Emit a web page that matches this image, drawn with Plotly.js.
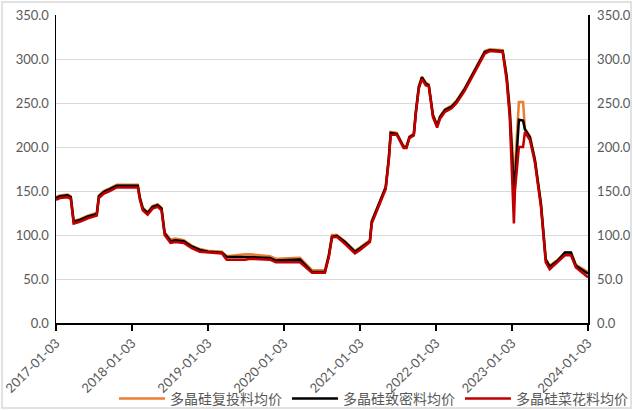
<!DOCTYPE html>
<html>
<head>
<meta charset="utf-8">
<script src="https://cdn.plot.ly/plotly-3.0.1.min.js"></script>
<style>
html,body{margin:0;padding:0;background:#fff;}
#chart{width:633px;height:410px;}
</style>
</head>
<body>
<div id="chart"></div>
<script>
const dates = ['2017-01-03','2017-01-22','2017-02-28','2017-03-15','2017-03-29','2017-04-27','2017-06-05','2017-07-18','2017-07-28','2017-08-21','2017-09-18','2017-10-22',
'2018-01-31','2018-02-10','2018-02-24','2018-03-19','2018-04-12','2018-05-06','2018-05-25','2018-06-09','2018-07-07','2018-07-31','2018-09-09','2018-10-17','2018-11-25',
'2019-01-03','2019-03-11','2019-04-03','2019-07-01','2019-07-25','2019-10-28','2019-11-25',
'2020-03-20','2020-04-13','2020-05-17','2020-07-18','2020-08-06','2020-08-21','2020-09-13','2020-10-22','2020-12-09',
'2021-01-03','2021-02-05','2021-02-19','2021-02-28','2021-03-19','2021-04-12','2021-05-06','2021-05-21','2021-05-30','2021-06-28','2021-07-31','2021-08-14','2021-08-28','2021-09-18','2021-09-28','2021-10-12','2021-10-27','2021-11-15','2021-11-29','2021-12-19',
'2022-01-08','2022-01-22','2022-02-15','2022-03-19','2022-04-12','2022-05-21','2022-08-25','2022-09-18','2022-11-19','2022-12-08','2022-12-23',
'2023-01-12','2023-01-17','2023-02-05','2023-02-25','2023-03-06','2023-03-30','2023-04-23','2023-05-22','2023-06-14','2023-07-03','2023-08-11','2023-09-14','2023-10-13','2023-11-06','2024-01-03'];

const fuTouLiao = [143,145,146,144,116,118,122,125,145,150,153,157,
157,143,131,126,133,135,131,103,95,96,94,88,84,
82,81,76,78,78,76,73,
74,68,60,60,78,100,100,93,82,
86,92,94,116,128,141,155,188,217,216,201,201,212,215,241,269,280,273,271,237,
225,235,243,247,253,267,309,311,310,282,245,
170,175,251,251,221,212,186,136,73,65,72,80,80,66,58];

const zhiMiLiao = [142,144,145,143,115,117,121,124,144,149,152,156,
156,142,130,125,132,134,130,102,93,94,93,87,83,
81,80,75,75,75,74,71,
72,66,58,58,77,98,99,92,81,
85,91,93,115,127,140,154,187,216,215,200,200,211,214,240,268,279,272,270,236,
224,234,242,246,252,266,308,310,309,280,240,
151,160,231,230,220,211,185,135,72,64,71,80,80,65,56];

const caiHuaLiao = [140,142,143,141,113,115,119,122,142,147,150,154,
154,140,128,123,130,132,128,100,91,92,91,85,81,
80,79,72,72,73,72,69,
69,64,57,57,75,97,98,90,79,
83,90,92,113,125,138,152,185,214,214,199,199,210,213,238,266,277,270,269,234,
222,232,240,244,250,264,306,309,308,276,234,
113,150,200,200,217,208,182,132,69,61,69,77,77,63,52];

const seriesNames = ['多晶硅复投料均价','多晶硅致密料均价','多晶硅菜花料均价'];
const seriesColors = ['#ED7D31','#000000','#C00000'];
const tickDates = ['2017-01-03','2018-01-03','2019-01-03','2020-01-03','2021-01-03','2022-01-03','2023-01-03','2024-01-03'];
const yTicks = [0,50,100,150,200,250,300,350];

const allSeries = [fuTouLiao, zhiMiLiao, caiHuaLiao];
const traces = allSeries.map((vals,i)=>({
  x: dates, y: vals, type:'scatter', mode:'lines', name: seriesNames[i],
  line:{color: seriesColors[i], width: 2.5}
}));
traces.push({x:[dates[0]], y:[0], yaxis:'y2', type:'scatter', mode:'lines', showlegend:false, hoverinfo:'skip', line:{width:0}});

const W=633,H=410,L=56,R=45,T=15,B=87;
const pw=W-L-R, ph=H-T-B;
const tickFont = {family:'Lato, "Noto Sans", sans-serif', size:13, color:'#595959'};

const layout = {
  width:W, height:H,
  margin:{l:L,r:R,t:T,b:B,pad:0},
  paper_bgcolor:'#ffffff', plot_bgcolor:'#ffffff',
  showlegend:true,
  font:{family:'"Noto Sans CJK SC", sans-serif', color:'#595959', size:12},
  xaxis:{
    type:'date', range:['2017-01-03','2024-01-03'], automargin:false,
    tickmode:'array', tickvals:tickDates, ticktext:tickDates,
    tickangle:-45, ticks:'outside', ticklen:6, tickcolor:'#000', tickwidth:1.5,
    showline:true, linecolor:'#000', linewidth:1.5, showgrid:false, zeroline:false,
    tickfont:tickFont
  },
  yaxis:{
    range:[0,350], automargin:false, tickmode:'array', tickvals:yTicks, tickformat:'.1f',
    showline:true, linecolor:'#000', linewidth:1.5, showgrid:true, gridcolor:'#D9D9D9', gridwidth:1,
    zeroline:false, ticks:'', tickfont:tickFont, ticklabelstandoff:3
  },
  yaxis2:{
    range:[0,350], automargin:false, overlaying:'y', side:'right', tickmode:'array', tickvals:yTicks, tickformat:'.1f',
    showline:true, linecolor:'#000', linewidth:1.5, showgrid:false, zeroline:false, ticks:'', tickfont:tickFont,
    ticklabelstandoff:5
  },
  legend:{
    orientation:'h', xref:'container', yref:'container', x:0.59, xanchor:'center', y:11/H, yanchor:'middle',
    font:{family:'"Noto Sans CJK SC", sans-serif', size:14, color:'#595959'},
    bgcolor:'rgba(0,0,0,0)', itemwidth:46, traceorder:'normal'
  },
  shapes:[{
    type:'rect', xref:'paper', yref:'paper', layer:'above',
    x0:(2-L)/pw, x1:(W-2-L)/pw, y0:(T+ph-(H-2))/ph, y1:(T+ph-2)/ph,
    line:{color:'#D9D9D9', width:1.5}, fillcolor:'rgba(0,0,0,0)'
  }]
};

Plotly.newPlot('chart', traces, layout, {displayModeBar:false, staticPlot:true});
</script>
</body>
</html>
